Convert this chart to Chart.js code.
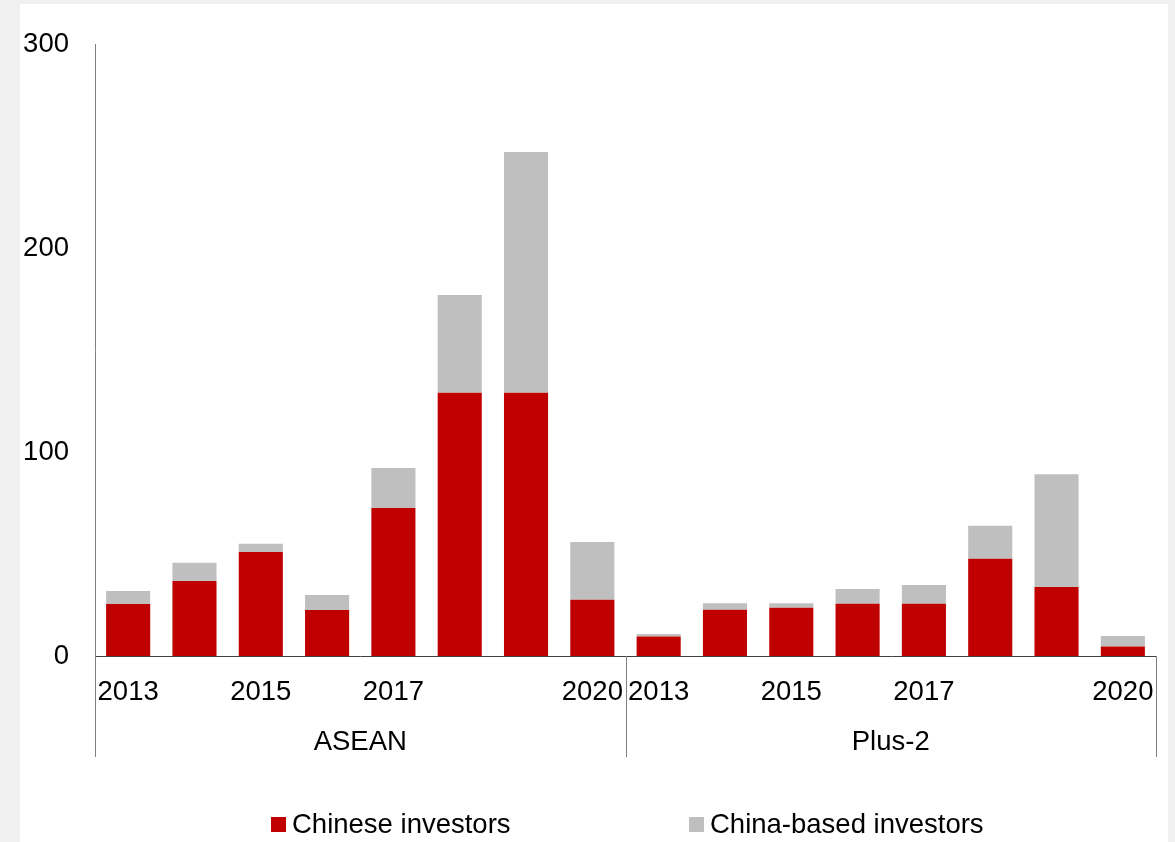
<!DOCTYPE html>
<html>
<head>
<meta charset="utf-8">
<script src="https://cdn.jsdelivr.net/npm/chart.js@4/dist/chart.umd.min.js"></script>
<style>
	html, body { margin: 0; padding: 0; background: #f0f0f0; }
	canvas { display: block; }
</style>
</head>
<body>
<canvas id="chart-1" width="1175" height="842"></canvas>
<script>

var groups = ['ASEAN', 'Plus-2'];
var years = ['2013', '2014', '2015', '2016', '2017', '2018', '2019', '2020'];
var shownYears = ['2013', '2015', '2017', '2020'];

// ASEAN first, then Plus-2
var chineseInvestors = [25.5, 36.8, 51, 22.6, 72.5, 129, 129, 27.6,
	9.5, 22.7, 23.7, 25.6, 25.6, 47.7, 33.8, 4.6];
var chinaBasedInvestors = [6.4, 8.9, 4, 7.3, 19.7, 48, 118, 28.3,
	1.3, 3.1, 2.1, 7.2, 9.2, 16.2, 55.3, 5.2];

var yTicks = [0, 100, 200, 300];

var redColour = '#C00000';
var greyColour = '#BFBFBF';
var fontFamily = '"Liberation Sans", Arial, sans-serif';
var fontSize = 27.5;

var labels = [];
groups.forEach(function(g) {
	years.forEach(function(y) { labels.push(y); });
});

// background panel + group labels, dividers and legend
var decorations = {
	id: 'decorations',
	beforeDraw: function(chart) {
		var ctx = chart.ctx;
		ctx.save();
		ctx.fillStyle = '#f0f0f0';
		ctx.fillRect(0, 0, chart.width, chart.height);
		ctx.fillStyle = '#ffffff';
		ctx.fillRect(20, 4, 1148, chart.height - 4);
		ctx.restore();
	},
	afterDraw: function(chart) {
		var ctx = chart.ctx;
		var x = chart.scales.x;
		var area = chart.chartArea;
		ctx.save();

		// dividers between groups
		var edges = [x.left];
		for (var g = 1; g < groups.length; g++) {
			var i = g * years.length;
			edges.push((x.getPixelForValue(i - 1) + x.getPixelForValue(i)) / 2);
		}
		edges.push(x.right);
		ctx.strokeStyle = '#808080';
		ctx.lineWidth = 1;
		edges.forEach(function(px) {
			ctx.beginPath();
			ctx.moveTo(Math.round(px) + 0.5, area.bottom);
			ctx.lineTo(Math.round(px) + 0.5, area.bottom + 101);
			ctx.stroke();
		});

		// group names
		ctx.fillStyle = '#000';
		ctx.font = fontSize + 'px ' + fontFamily;
		ctx.textAlign = 'center';
		ctx.textBaseline = 'middle';
		for (var k = 0; k < groups.length; k++) {
			ctx.fillText(groups[k], (edges[k] + edges[k + 1]) / 2, area.bottom + 86);
		}

		// legend
		var items = chart.data.datasets.map(function(d) {
			return { text: d.label, colour: d.backgroundColor };
		});
		var starts = [271, 689];
		ctx.textAlign = 'left';
		items.forEach(function(item, n) {
			ctx.fillStyle = item.colour;
			ctx.fillRect(starts[n], 817, 15, 15);
			ctx.fillStyle = '#000';
			ctx.fillText(item.text, starts[n] + 21, 825);
		});

		ctx.restore();
	}
};

var data1 = {
	labels: labels,
	datasets: [{
		label: 'Chinese investors',
		backgroundColor: redColour,
		data: chineseInvestors,
		barPercentage: 0.665,
		categoryPercentage: 1
	}, {
		label: 'China-based investors',
		backgroundColor: greyColour,
		data: chinaBasedInvestors,
		barPercentage: 0.665,
		categoryPercentage: 1
	}]
};

var options1 = {
	responsive: false,
	animation: false,
	layout: {
		padding: { left: 0, top: 44, right: 19, bottom: 0 }
	},
	plugins: {
		legend: { display: false },
		tooltip: { enabled: false }
	},
	scales: {
		x: {
			stacked: true,
			grid: { display: false, drawTicks: false },
			border: { display: true, color: '#404040', width: 1 },
			ticks: {
				autoSkip: false,
				maxRotation: 0,
				minRotation: 0,
				padding: 20,
				color: '#000',
				font: { family: fontFamily, size: fontSize },
				callback: function(value) {
					var lab = this.getLabelForValue(value);
					return shownYears.indexOf(lab) >= 0 ? lab : '';
				}
			},
			afterFit: function(scale) { scale.height = 186; }
		},
		y: {
			stacked: true,
			min: 0,
			max: 300,
			grid: { display: false, drawTicks: false },
			border: { display: true, color: '#808080', width: 1 },
			afterBuildTicks: function(scale) {
				scale.ticks = yTicks.map(function(v) { return { value: v }; });
			},
			ticks: {
				padding: 26,
				color: '#000',
				font: { family: fontFamily, size: fontSize }
			},
			afterFit: function(scale) { scale.width = 95; }
		}
	}
};

var graph = new Chart('chart-1', {
	type: 'bar',
	data: data1,
	options: options1,
	plugins: [decorations]
});
</script>
</body>
</html>
